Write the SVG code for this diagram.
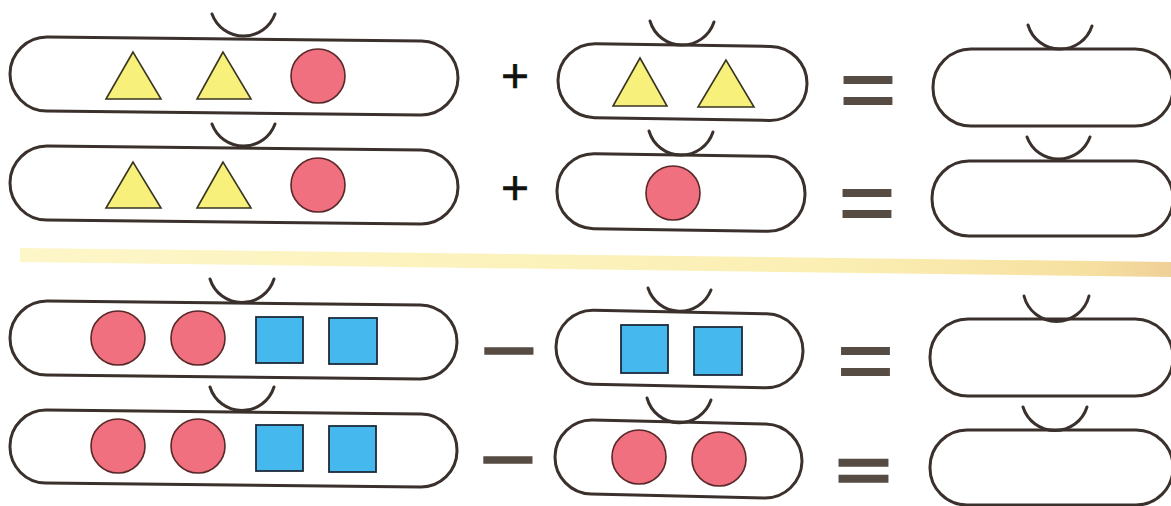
<svg xmlns="http://www.w3.org/2000/svg" width="1171" height="506" viewBox="0 0 1171 506">
<defs>
<linearGradient id="band" x1="0" y1="0" x2="1" y2="0">
<stop offset="0" stop-color="#fdf6c8"/>
<stop offset="0.7" stop-color="#fbefb4"/>
<stop offset="0.93" stop-color="#f6e0a0"/>
<stop offset="1" stop-color="#efd098"/>
</linearGradient>
</defs>
<style>
.cap{fill:#ffffff;stroke:#3a302c;stroke-width:3}
.cup{fill:none;stroke:#3a302c;stroke-width:3;stroke-linecap:round}
.tri{fill:#f7f07a;stroke:#3a3520;stroke-width:1.6}
.dot{fill:#f07080;stroke:#5a2828;stroke-width:1.6}
.sq{fill:#45b8ee;stroke:#1c2a3a;stroke-width:1.8}
.plus{font-family:"Liberation Sans",Arial,sans-serif;font-size:48px;fill:#111111;stroke:#111111;stroke-width:0.6;text-anchor:middle}
.op{font-family:"Liberation Sans",Arial,sans-serif;fill:#564c43;stroke:#564c43;text-anchor:middle}
.eq{font-size:84px;stroke-width:2}
.eqs{font-size:63px;stroke-width:3.4}
.mi{font-size:85px;stroke-width:1.5}
</style>
<rect width="1171" height="506" fill="#ffffff"/>
<polygon points="20,248 1171,262 1171,277 20,262" fill="url(#band)"/>

<g id="r1-left">
<g transform="rotate(0.6 234 76)">
<rect class="cap" x="10" y="39" width="448" height="74" rx="37"/>
</g>
<path class="cup" d="M212,14 A33.5,33.5 0 0 0 275,14"/>
<polygon class="tri" points="133,52 106,99 161,99"/>
<polygon class="tri" points="223,52 197,99 251,99"/>
<circle class="dot" cx="318" cy="76" r="27"/>
</g>

<g id="r1-plus"><text class="plus" x="515" y="91.5">+</text></g>

<g id="r1-mid">
<g transform="rotate(0.9 682 82)">
<rect class="cap" x="558" y="45" width="249" height="74" rx="37"/>
</g>
<path class="cup" d="M650,21 A33.5,33.5 0 0 0 714,22"/>
<polygon class="tri" points="640,58 613,106 667,106"/>
<polygon class="tri" points="726,60 698,107 754,107"/>
</g>

<g id="r1-eq"><text class="op eq" x="868" y="118" textLength="56" lengthAdjust="spacingAndGlyphs">=</text></g>

<g id="r1-right">
<rect class="cap" x="933" y="49" width="240" height="77" rx="38"/>
<path class="cup" d="M1028,25 A33.5,33.5 0 0 0 1092,26"/>
</g>

<g id="r2-left">
<g transform="rotate(0.6 234 185)">
<rect class="cap" x="10" y="148" width="448" height="74" rx="37"/>
</g>
<path class="cup" d="M212,124 A33.5,33.5 0 0 0 275,124"/>
<polygon class="tri" points="133,162 106,208 161,208"/>
<polygon class="tri" points="223,162 197,208 251,208"/>
<circle class="dot" cx="318" cy="185" r="27"/>
</g>

<g id="r2-plus"><text class="plus" x="515" y="204">+</text></g>

<g id="r2-mid">
<g transform="rotate(0.9 681 192)">
<rect class="cap" x="557" y="155" width="248" height="75" rx="37"/>
</g>
<path class="cup" d="M649,131 A33.5,33.5 0 0 0 713,132"/>
<circle class="dot" cx="673" cy="193" r="27"/>
</g>

<g id="r2-eq"><text class="op eq" x="867" y="230.5" textLength="56" lengthAdjust="spacingAndGlyphs">=</text></g>

<g id="r2-right">
<rect class="cap" x="932" y="161" width="241" height="75" rx="37"/>
<path class="cup" d="M1027,137 A33.5,33.5 0 0 0 1090,137"/>
</g>

<g id="r3-left">
<g transform="rotate(0.6 233 340)">
<rect class="cap" x="10" y="303" width="447" height="74" rx="37"/>
</g>
<path class="cup" d="M210,279 A33.5,33.5 0 0 0 274,279"/>
<circle class="dot" cx="118" cy="338" r="27"/>
<circle class="dot" cx="198" cy="338" r="27"/>
<rect class="sq" x="256" y="317" width="47" height="46"/>
<rect class="sq" x="329" y="318" width="48" height="46"/>
</g>

<g id="r3-minus"><text class="op mi" x="509" y="378.5" textLength="57" lengthAdjust="spacingAndGlyphs">−</text></g>

<g id="r3-mid">
<g transform="rotate(1.2 679 349)">
<rect class="cap" x="556" y="312" width="247" height="74" rx="37"/>
</g>
<path class="cup" d="M648,288 A33.5,33.5 0 0 0 711,290"/>
<rect class="sq" x="621" y="325" width="47" height="48"/>
<rect class="sq" x="694" y="327" width="48" height="48"/>
</g>

<g id="r3-eq"><text class="op eq" x="865.5" y="388.5" textLength="56" lengthAdjust="spacingAndGlyphs">=</text></g>

<g id="r3-right">
<rect class="cap" x="930" y="319" width="243" height="77" rx="38"/>
<path class="cup" d="M1024,296 A33.5,33.5 0 0 0 1089,296"/>
</g>

<g id="r4-left">
<g transform="rotate(0.6 233 448)">
<rect class="cap" x="10" y="412" width="447" height="73" rx="36"/>
</g>
<path class="cup" d="M210,387 A33.5,33.5 0 0 0 274,387"/>
<circle class="dot" cx="118" cy="446" r="27"/>
<circle class="dot" cx="198" cy="446" r="27"/>
<rect class="sq" x="256" y="425" width="47" height="46"/>
<rect class="sq" x="329" y="426" width="47" height="46"/>
</g>

<g id="r4-minus"><text class="op mi" x="508" y="487.5" textLength="57" lengthAdjust="spacingAndGlyphs">−</text></g>

<g id="r4-mid">
<g transform="rotate(1.3 678 459)">
<rect class="cap" x="555" y="422" width="247" height="74" rx="37"/>
</g>
<path class="cup" d="M647,398 A33.5,33.5 0 0 0 711,400"/>
<circle class="dot" cx="639" cy="457" r="27"/>
<circle class="dot" cx="719" cy="459" r="27"/>
</g>

<g id="r4-eq"><text class="op eqs" x="863.5" y="492.2" textLength="54" lengthAdjust="spacingAndGlyphs">=</text></g>

<g id="r4-right">
<rect class="cap" x="930" y="430" width="243" height="75" rx="37"/>
<path class="cup" d="M1023,407 A33.5,33.5 0 0 0 1087,407"/>
</g>

<g id="connectors"></g>
</svg>
